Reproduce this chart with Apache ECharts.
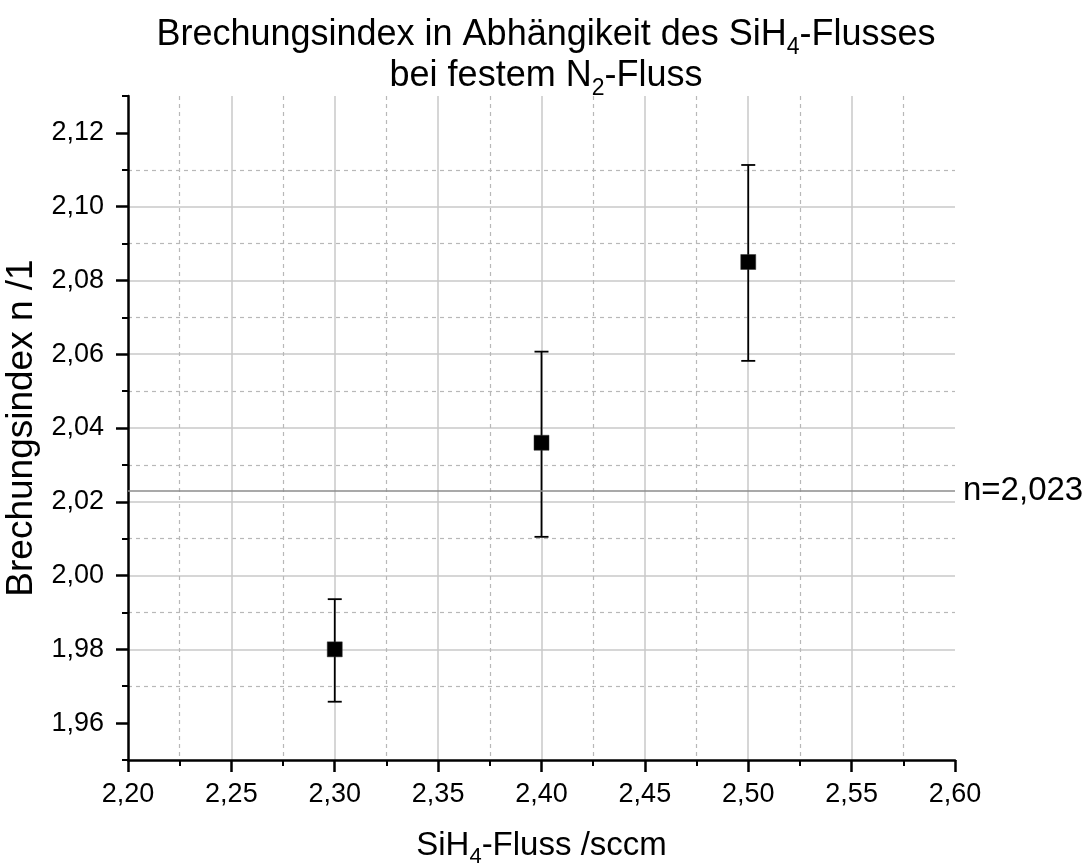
<!DOCTYPE html>
<html>
<head>
<meta charset="utf-8">
<script src="https://cdn.jsdelivr.net/npm/echarts@6/dist/echarts.min.js"></script>
<style>
html,body{margin:0;padding:0;background:#fff;}
#chart{width:1092px;height:865px;}
</style>
</head>
<body>
<div id="chart"></div>
<script>
// ---- data ----
const xValues = [2.30, 2.40, 2.50];            // SiH4-Fluss / sccm
const nValues = [1.980, 2.036, 2.085];         // Brechungsindex
const nUpper  = [1.9936, 2.0607, 2.1113];      // upper error bound
const nLower  = [1.9658, 2.0105, 2.0582];      // lower error bound
const refN = 2.023;
const refLabel = 'n=2,023';
const yMajorTicks = [1.96, 1.98, 2.00, 2.02, 2.04, 2.06, 2.08, 2.10, 2.12];
const yMinorTicks = [1.95, 1.97, 1.99, 2.01, 2.03, 2.05, 2.07, 2.09, 2.11, 2.13];
const xMin = 2.20, xMax = 2.60, xStep = 0.05;
const yMin = 1.95, yMax = 2.13;

const FONT = '"Liberation Sans", Arial, sans-serif';
const fmt = v => v.toFixed(2).replace('.', ',');

const points = xValues.map((x, i) => [x, nValues[i]]);
const bars = xValues.map((x, i) => [x, nLower[i], nUpper[i]]);

const chart = echarts.init(document.getElementById('chart'), null, {renderer: 'canvas'});

const subStyle = (size, pad, lh) => ({fontSize: size, fontFamily: FONT, color: '#000', padding: [pad, 0, 0, 0], lineHeight: lh});

chart.setOption({
  animation: false,
  backgroundColor: '#fff',
  title: {
    text: 'Brechungsindex in Abhängikeit des SiH{s|4}-Flusses\nbei festem N{s|2}-Fluss',
    left: 'center',
    top: 10,
    textStyle: {
      fontFamily: FONT, fontSize: 36, fontWeight: 'normal', color: '#000', lineHeight: 41,
      rich: { s: subStyle(23, 24, 41) }
    }
  },
  grid: {left: 128, right: 137, top: 96, bottom: 105, containLabel: false, outerBoundsMode: 'none'},
  xAxis: [{
    type: 'value', min: xMin, max: xMax, interval: xStep,
    name: 'SiH{s|4}-Fluss /sccm',
    nameLocation: 'middle', nameGap: 66,
    nameTextStyle: {fontFamily: FONT, fontSize: 33, color: '#000', lineHeight: 40,
      rich: { s: subStyle(22, 22, 40) }},
    axisLine: {show: true, onZero: false, lineStyle: {color: '#000', width: 2.5}},
    axisTick: {show: true, inside: false, length: 12, lineStyle: {color: '#000', width: 2.5}},
    minorTick: {show: true, splitNumber: 2, length: 6, lineStyle: {color: '#000', width: 2}},
    axisLabel: {fontFamily: FONT, fontSize: 27, color: '#000', margin: 21, formatter: fmt},
    splitLine: {show: true, showMinLine: false, showMaxLine: false, lineStyle: {color: '#c8c8c8', width: 1.5, type: 'solid'}},
    minorSplitLine: {show: true, lineStyle: {color: '#b8b8b8', width: 1.2, type: [4, 4]}}
  }],
  yAxis: [{
    type: 'value', min: yMin, max: yMax,
    name: 'Brechungsindex n /1',
    nameLocation: 'middle', nameGap: 80, nameRotate: 90,
    nameTextStyle: {fontFamily: FONT, fontSize: 37, color: '#000'},
    axisLine: {show: true, onZero: false, lineStyle: {color: '#000', width: 2.5}},
    axisTick: {show: true, length: 12, customValues: yMajorTicks, lineStyle: {color: '#000', width: 2.5}},
    axisLabel: {fontFamily: FONT, fontSize: 27, color: '#000', margin: 24, customValues: yMajorTicks, formatter: fmt},
    splitLine: {show: true, showMinLine: false, showMaxLine: false, lineStyle: {color: '#c8c8c8', width: 1.5, type: 'solid'}}
  }, {
    type: 'value', min: yMin, max: yMax, position: 'left',
    axisLine: {show: false},
    axisTick: {show: true, length: 6, customValues: yMinorTicks, lineStyle: {color: '#000', width: 2}},
    axisLabel: {show: false},
    splitLine: {show: true, showMinLine: false, showMaxLine: false, lineStyle: {color: '#b8b8b8', width: 1.2, type: [4, 4]}}
  }],
  series: [{
    type: 'custom',
    name: 'errors',
    xAxisIndex: 0, yAxisIndex: 0,
    data: bars,
    z: 3,
    renderItem: function (params, api) {
      const x = api.value(0);
      const lo = api.coord([x, api.value(1)]);
      const hi = api.coord([x, api.value(2)]);
      const half = 7;
      const st = {stroke: '#000', lineWidth: 1.8};
      return {
        type: 'group',
        children: [
          {type: 'line', shape: {x1: lo[0], y1: lo[1], x2: hi[0], y2: hi[1]}, style: st},
          {type: 'line', shape: {x1: lo[0] - half, y1: lo[1], x2: lo[0] + half, y2: lo[1]}, style: st},
          {type: 'line', shape: {x1: hi[0] - half, y1: hi[1], x2: hi[0] + half, y2: hi[1]}, style: st}
        ]
      };
    },
    encode: {x: 0, y: [1, 2]}
  }, {
    type: 'scatter',
    name: 'n',
    xAxisIndex: 0, yAxisIndex: 0,
    data: points,
    symbol: 'rect',
    symbolSize: 15,
    z: 4,
    itemStyle: {color: '#000', borderColor: '#333', borderWidth: 0.5, opacity: 1},
    markLine: {
      silent: true,
      symbol: ['none', 'none'],
      precision: 3,
      lineStyle: {color: '#8c8c8c', width: 1.6, type: 'solid'},
      label: {show: true, position: 'end', formatter: refLabel, fontFamily: FONT, fontSize: 33, color: '#000', distance: 8},
      data: [{yAxis: refN}]
    }
  }]
});
</script>
</body>
</html>
